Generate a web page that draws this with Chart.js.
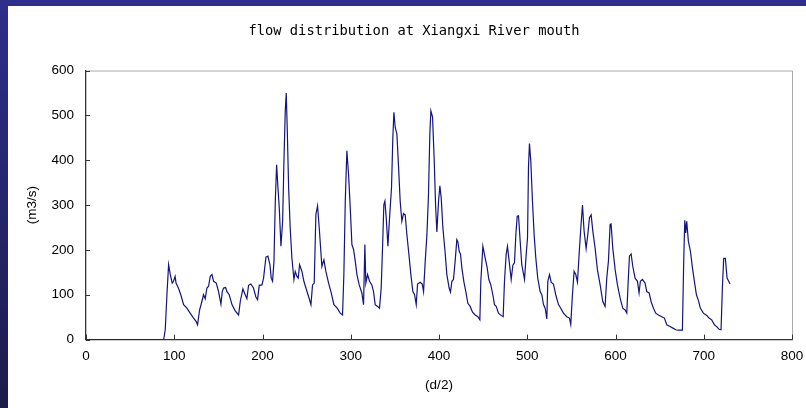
<!DOCTYPE html>
<html>
<head>
<meta charset="utf-8">
<title>flow distribution at Xiangxi River mouth</title>
<script src="https://cdn.jsdelivr.net/npm/chart.js@4.4.1/dist/chart.umd.min.js"></script>
<style>
  html, body { margin: 0; padding: 0; background: #fff; overflow: hidden; }
  #wrap { position: relative; width: 806px; height: 408px; overflow: hidden; background: #fff; }
  #chart { position: absolute; left: 0; top: 0; }
  .bar-top { position: absolute; left: 0; top: 0; width: 806px; height: 6px; background: #2e2e8c; }
  .bar-left { position: absolute; left: 0; top: 0; width: 8px; height: 408px; background: linear-gradient(#2e2e8c, #1c1c4a); }
</style>
</head>
<body>
<div id="wrap">
  <canvas id="chart" width="828" height="408"></canvas>
  <div class="bar-top"></div>
  <div class="bar-left"></div>
</div>
<script>
// flow at the river mouth (x in d/2, y in m3/s)
const flowX = [
  0, 88, 89.8, 91.7, 93.6, 95.5, 97.7, 99.2, 101, 102, 104.7, 107.4, 110.6, 114.3, 118, 121.9, 124.9, 126.4,
  128.7, 131.3, 133.2, 135.1, 137, 138.9, 140.8, 142.7, 144.6, 147.6, 150.2, 152.9, 154.4, 155.9, 158.2,
  159.7, 162.3, 165.4, 169.1, 172.9, 174.8, 177.8, 180.4, 182.3, 184.2, 186.8, 189.8, 192.5, 194.4, 196.3,
  199.4, 201.2, 203.9, 206.1, 208.4, 209.9, 211.4, 213, 214.5, 216, 217.5, 219, 220.9, 222.8, 224.3, 225.8,
  226.9, 228, 229.6, 231.4, 233.3, 235.6, 237.1, 239, 240.5, 242, 244.7, 246.9, 249.2, 252.2, 254.9, 256.7,
  258.6, 260.5, 262.4, 264.3, 267.3, 269.6, 271.8, 274.9, 277.9, 280.9, 284.7, 288.1, 290.7, 292.2, 293.8,
  295.6, 297.5, 299.6, 301.3, 303.2, 305.1, 307, 309.6, 312.6, 314.5, 316, 317.1, 319, 321.3, 323.9, 325.8,
  327.7, 330.4, 332.6, 334.5, 336, 337.5, 338.7, 340.2, 342.1, 344, 346.2, 347.7, 348.9, 350.4, 352.3, 354.2,
  356, 357.9, 359.8, 361.7, 363.6, 365.9, 368.1, 370.4, 372.3, 374.2, 375.7, 378.7, 381, 382.5, 384.4, 386.3,
  388.1, 389.6, 390.8, 392.7, 394.6, 396.1, 397.6, 399.5, 401, 402.5, 404.4, 407, 408.9, 411.5, 413, 414.6,
  416.4, 418.3, 420.2, 421.3, 422.9, 424.4, 425.9, 428.1, 430.4, 432.7, 435.3, 438, 441, 444, 446.3, 447.4,
  449.7, 452.3, 454.6, 456.5, 458.7, 461, 462.9, 464.8, 467.4, 470.4, 472.7, 474.2, 476.1, 477.6, 479.5,
  481.8, 483.7, 485.5, 487.1, 488.6, 490.1, 492, 493.8, 496.9, 498.8, 500.3, 501.4, 502.5, 504, 505.9, 507.8,
  509.7, 511.9, 514.6, 516.5, 518.4, 520.3, 522.2, 523.3, 525.2, 527.1, 529.7, 532.3, 535.4, 538, 541, 544.8,
  547.8, 549.3, 551.2, 553.1, 555, 556.9, 559.2, 560.7, 562.6, 564.4, 566.7, 568.6, 570.5, 572.4, 574.3,
  576.9, 579.5, 582.6, 585.6, 588.2, 590.1, 592, 593.9, 595, 596.9, 599.6, 602.2, 605.2, 608.2, 610.9, 612.8,
  614.3, 615.8, 617.7, 619.6, 622.2, 624.9, 626.7, 628.2, 630.5, 633.5, 635.4, 638.1, 640.3, 643, 645.6,
  648.6, 652.4, 655.4, 658.1, 661.8, 665.6, 668.3, 671.3, 675.8, 677.3, 678.5, 679.6, 680.7, 682.6, 684.9,
  687.2, 689.4, 691.7, 694, 696.2, 699.6, 703.4, 706, 709, 712.1, 714.7, 717.4, 719.6, 721.1, 722.6, 724.5,
  726.4, 728.3, 729.8
];
const flowY = [
  0, 0, 22, 100, 167, 145, 126, 130, 141, 126, 115, 100, 78, 70, 59, 48, 40, 33,
  66, 85, 100, 91, 115, 119, 141, 145, 130, 126, 107, 79, 107, 115, 116,
  107, 100, 78, 64, 55, 85, 113, 100, 91, 121, 124, 115, 95, 89, 121,
  122, 137, 184, 186, 167, 137, 130, 175, 309, 390, 339, 294, 208, 264, 399, 510,
  550, 473, 339, 249, 182, 134, 152, 141, 137, 167, 152, 130, 115, 96, 78, 122,
  126, 279, 298, 249, 163, 178, 152, 126, 104, 78, 70, 59, 55, 145, 309,
  421, 369, 287, 212, 201, 175, 145, 122, 104, 78, 212, 126, 145, 130, 122, 107,
  78, 74, 70, 115, 204, 301, 309, 272, 208, 272, 339, 451, 507, 473, 458, 384,
  309, 264, 281, 278, 234, 190, 145, 107, 100, 78, 124, 128, 124, 107, 175, 234,
  324, 458, 510, 496, 399, 301, 240, 309, 343, 316, 249, 193, 145, 115, 106, 130,
  134, 175, 223, 219, 197, 190, 160, 130, 107, 81, 74, 61, 55, 51, 44, 130,
  208, 182, 160, 134, 122, 100, 78, 74, 59, 54, 51, 130, 190, 208, 175,
  134, 166, 171, 234, 275, 276, 219, 167, 134, 190, 227, 384, 437, 399, 309, 234,
  182, 137, 107, 100, 78, 70, 46, 130, 145, 128, 124, 100, 78, 70, 59, 51,
  48, 34, 100, 152, 145, 128, 204, 249, 300, 242, 203, 234, 272, 278, 242,
  204, 156, 122, 85, 74, 137, 175, 257, 258, 204, 156, 122, 93, 70, 66, 59,
  126, 186, 191, 163, 137, 130, 104, 130, 134, 126, 107, 104, 85, 70, 59,
  55, 51, 48, 33, 29, 25, 22, 21, 21, 175, 266, 238, 264, 219, 197,
  160, 130, 100, 87, 70, 59, 54, 48, 44, 33, 29, 23, 22, 115, 181, 181,
  137, 130, 124
];
const xTicks = [0, 100, 200, 300, 400, 500, 600, 700, 800];
const yTicks = [0, 100, 200, 300, 400, 500, 600];

const points = flowX.map((x, i) => ({ x: x, y: flowY[i] }));

// inward tick marks plus the light frame on top/right
const frameTicks = {
  id: 'frameTicks',
  afterDraw(chart) {
    const ctx = chart.ctx;
    const a = chart.chartArea;
    const xs = chart.scales.x, ys = chart.scales.y;
    ctx.save();
    ctx.strokeStyle = '#a8a8a8';
    ctx.lineWidth = 1;
    ctx.beginPath();
    ctx.moveTo(a.left, a.top + 0.5);
    ctx.lineTo(a.right + 0.5, a.top + 0.5);
    ctx.lineTo(a.right + 0.5, a.bottom);
    ctx.stroke();
    ctx.strokeStyle = '#333';
    ctx.beginPath();
    xTicks.forEach(v => {
      const px = Math.round(xs.getPixelForValue(v)) + 0.5;
      ctx.moveTo(px, a.bottom);
      ctx.lineTo(px, a.bottom - 5);
    });
    yTicks.forEach(v => {
      const py = Math.round(ys.getPixelForValue(v)) + 0.5;
      ctx.moveTo(a.left, py);
      ctx.lineTo(a.left + 4, py);
    });
    ctx.stroke();
    ctx.restore();
  }
};

new Chart(document.getElementById('chart'), {
  type: 'line',
  data: {
    datasets: [{
      data: points,
      borderColor: '#14147f',
      borderWidth: 1.2,
      pointRadius: 0,
      tension: 0,
      fill: false
    }]
  },
  options: {
    responsive: false,
    animation: false,
    layout: { padding: { left: 0, right: 0, top: 0, bottom: 8 } },
    plugins: {
      legend: { display: false },
      tooltip: { enabled: false },
      title: {
        display: true,
        text: 'flow distribution at Xiangxi River mouth',
        color: '#000',
        font: { family: 'DejaVu Sans Mono', size: 13.75, weight: 'normal' },
        padding: { top: 23, bottom: 31 }
      }
    },
    scales: {
      x: {
        type: 'linear',
        min: 0,
        max: 800,
        afterBuildTicks: s => { s.ticks = xTicks.map(v => ({ value: v })); },
        grid: { display: false, drawTicks: false },
        border: { color: '#333', width: 1.3 },
        ticks: { color: '#000', padding: 9, maxRotation: 0, font: { family: 'Liberation Sans', size: 13.5 } },
        title: { display: true, text: '(d/2)', color: '#000', padding: { top: 3, bottom: 7 }, font: { family: 'Liberation Sans', size: 13.5 } }
      },
      y: {
        min: 0,
        max: 600,
        afterBuildTicks: s => { s.ticks = yTicks.map(v => ({ value: v })); },
        afterFit: s => { s.width = 86; },
        grid: { display: false, drawTicks: false },
        border: { color: '#333', width: 1.3 },
        ticks: { color: '#000', padding: 12, font: { family: 'Liberation Sans', size: 13.5 } },
        title: { display: true, text: '(m3/s)', color: '#000', padding: { top: 24, bottom: 0 }, font: { family: 'Liberation Sans', size: 13.5 } }
      },
      // empty right-hand strip so the chart box stays wider than the plot
      side: {
        position: 'right',
        afterFit: s => { s.width = 36; },
        grid: { display: false, drawTicks: false },
        border: { display: false },
        ticks: { display: false }
      }
    }
  },
  plugins: [frameTicks]
});
</script>
</body>
</html>
